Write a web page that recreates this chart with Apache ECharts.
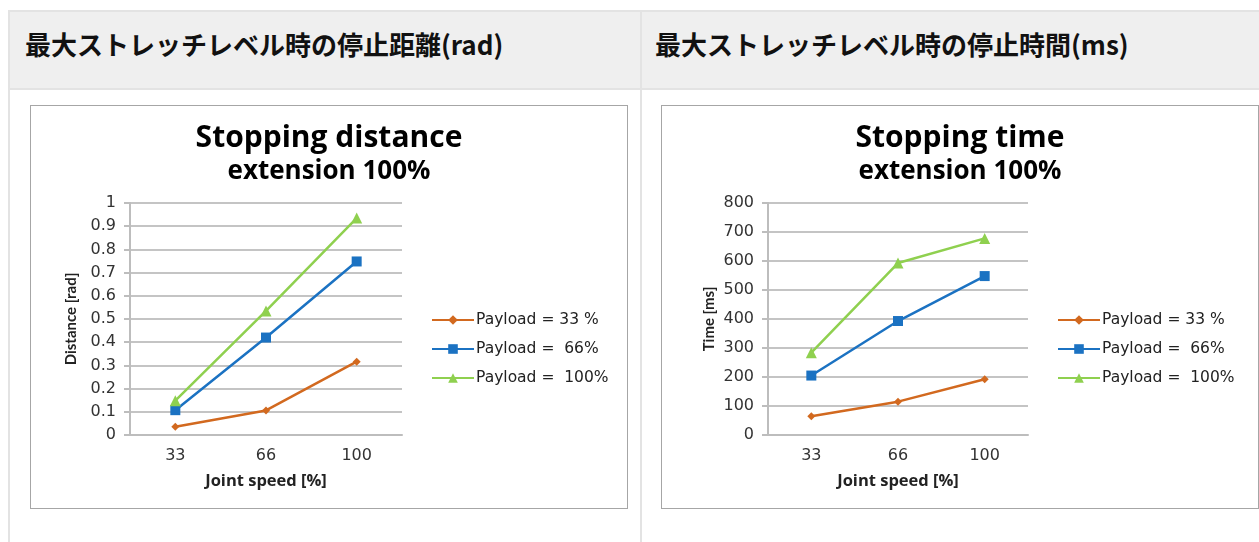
<!DOCTYPE html>
<html>
<head>
<meta charset="utf-8">
<script src="https://cdn.jsdelivr.net/npm/echarts@6/dist/echarts.min.js"></script>
<style>
  html, body { margin: 0; padding: 0; background: #fff; width: 1259px; height: 542px; overflow: hidden; }
  .hdr { position: absolute; top: 10px; height: 76px; background: #efefef;
         border-top: 2px solid #e3e3e3; border-bottom: 2px solid #e3e3e3; }
  .hdr span { position: absolute; top: 0; line-height: 64px; font-family: "Noto Sans CJK JP", sans-serif;
              font-weight: bold; font-size: 26px; color: #111; white-space: nowrap; }
  .vline { position: absolute; width: 2px; background: #e3e3e3; }
  .box { position: absolute; top: 105px; width: 598px; height: 404px; box-sizing: border-box;
         border: 1px solid #a6a6a6; background: #fff; }
  .chart { width: 596px; height: 402px; }
</style>
</head>
<body>
<div class="hdr" style="left:8px;width:633px;"><span id="h1" style="left:17px;"></span></div>
<div class="hdr" style="left:642px;width:617px;"><span id="h2" style="left:13px;"></span></div>
<div class="vline" style="left:8px;top:10px;height:532px;"></div>
<div class="vline" style="left:640px;top:10px;height:532px;"></div>
<div class="box" style="left:30px;"><div id="c1" class="chart"></div></div>
<div class="box" style="left:661px;"><div id="c2" class="chart"></div></div>
<script>
// ---- data ----
const headers = ['最大ストレッチレベル時の停止距離(rad)', '最大ストレッチレベル時の停止時間(ms)'];
const categories = ['33', '66', '100'];
const seriesNames = ['Payload = 33 %', 'Payload =  66%', 'Payload =  100%'];

const distTitle = 'Stopping distance';
const subTitle = 'extension 100%';
const distP33 = [0.036, 0.106, 0.316];
const distP66 = [0.107, 0.42, 0.748];
const distP100 = [0.148, 0.535, 0.935];
const distTicks = { min: 0, max: 1, interval: 0.1 };

const timeTitle = 'Stopping time';
const timeP33 = [65, 115, 192];
const timeP66 = [205, 393, 548];
const timeP100 = [284, 593, 678];
const timeTicks = { min: 0, max: 800, interval: 100 };

const xName = 'Joint speed [%]';
const distYName = 'Distance [rad]';
const timeYName = 'Time [ms]';

// ---- styles ----
const colors = ['#d2691f', '#1b72c2', '#8fd04f'];
const symbols = ['diamond', 'rect', 'triangle'];
const symbolSizes = [8, 10, 11];
const tickFont = 'DejaVu Sans';
const titleFont = 'Open Sans';
const nameFont = 'Lato';

document.getElementById('h1').textContent = headers[0];
document.getElementById('h2').textContent = headers[1];

function build(el, title, yName, ticks, data, gridLeft, gridWidth, legendLeft, yFmt) {
  const chart = echarts.init(document.getElementById(el), null, { renderer: 'canvas' });
  chart.setOption({
    animation: false,
    title: [
      { text: title, left: 'center', top: 12,
        textStyle: { fontFamily: titleFont, fontWeight: 'bold', fontSize: 30, color: '#000' } },
      { text: subTitle, left: 'center', top: 48,
        textStyle: { fontFamily: titleFont, fontWeight: 'bold', fontSize: 26, color: '#000' } }
    ],
    legend: {
      orient: 'vertical', left: legendLeft, top: 201, itemWidth: 42, itemHeight: 12, itemGap: 13,
      textStyle: { fontFamily: tickFont, fontSize: 15.5, color: '#222', padding: [0, 0, 0, -3] },
      data: seriesNames
    },
    grid: { left: gridLeft, top: 97, width: gridWidth, height: 232, containLabel: false },
    xAxis: {
      type: 'category', data: categories, boundaryGap: true,
      name: xName, nameLocation: 'middle', nameGap: 38,
      nameTextStyle: { fontFamily: titleFont, fontWeight: 'bold', fontSize: 16.5, color: '#222' },
      axisLine: { lineStyle: { color: '#bdbdbd', width: 2 } },
      axisTick: { show: false },
      axisLabel: { fontFamily: tickFont, fontSize: 16, color: '#333', margin: 13 }
    },
    yAxis: {
      type: 'value', min: ticks.min, max: ticks.max, interval: ticks.interval,
      name: yName, nameLocation: 'middle', nameGap: 51, nameRotate: 90,
      nameTextStyle: { fontFamily: nameFont, fontWeight: 'bold', fontSize: 15, color: '#222' },
      axisLine: { show: true, lineStyle: { color: '#bdbdbd', width: 2 } },
      axisTick: { show: true, length: 6, lineStyle: { color: '#bdbdbd', width: 2 } },
      splitLine: { lineStyle: { color: '#c4c4c4', width: 2 } },
      axisLabel: { fontFamily: tickFont, fontSize: 16, color: '#333', margin: 14, formatter: yFmt }
    },
    series: data.map((d, i) => ({
      name: seriesNames[i], type: 'line', data: d,
      symbol: symbols[i], symbolSize: symbolSizes[i],
      lineStyle: { color: colors[i], width: 2.5 },
      itemStyle: { color: colors[i] }
    }))
  });
}

build('c1', distTitle, distYName, distTicks, [distP33, distP66, distP100], 99, 272, 395,
      v => (Math.round(v * 10) / 10).toString());
build('c2', timeTitle, timeYName, timeTicks, [timeP33, timeP66, timeP100], 106, 260, 390,
      v => String(v));
</script>
</body>
</html>
